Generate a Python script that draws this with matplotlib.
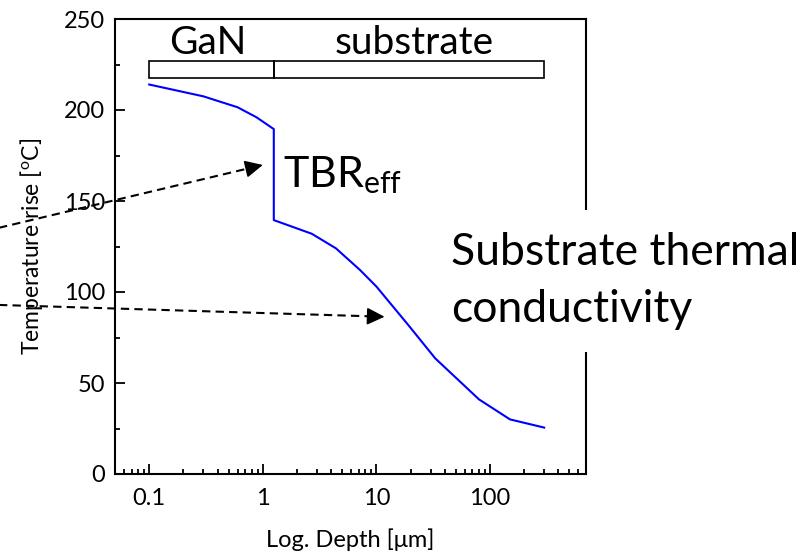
import matplotlib
matplotlib.use('Agg')
import matplotlib.pyplot as plt
from matplotlib.patches import Rectangle
from matplotlib.ticker import LogLocator, FixedLocator, NullFormatter
import numpy as np

plt.rcParams['font.family'] = ['Lato', 'DejaVu Sans']
plt.rcParams['mathtext.fontset'] = 'custom'
plt.rcParams['mathtext.rm'] = 'Lato'
plt.rcParams['mathtext.it'] = 'Lato:italic'

# temperature rise vs depth
depth = [0.1, 0.3, 0.6, 0.88, 1.25, 1.25, 2.7, 4.4, 7.2, 10, 19, 33, 80, 150, 300]
temp = [214, 207.5, 201.5, 196, 189.5, 139.5, 132, 124, 112, 103, 82, 63.5, 41, 30, 25.5]

# layer bars: (name, start, end)
layers = [('GaN', 0.1, 1.25), ('substrate', 1.25, 300)]
layer_label_x = [0.33, 21.6]
bar_y = (217.5, 227)

# dashed arrows: tail -> tip
arrow_tails = [(0.0047, 135.2), (0.0047, 92.9)]
arrow_tips = [(1.0, 169.8), (11.8, 86.4)]

xticks = [0.1, 1, 10, 100]
xticklabels = ['0.1', '1', '10', '100']
yticks = [0, 50, 100, 150, 200, 250]

W, H = 812, 552
fig = plt.figure(figsize=(W / 100, H / 100), dpi=100)
ax = fig.add_axes([115 / W, (H - 474) / H, (586 - 115) / W, (474 - 19) / H])

ax.plot(depth, temp, color='#0000ff', lw=1.5, zorder=4)

ax.set_xscale('log')
ax.set_xlim(0.05, 700)
ax.set_ylim(0, 250)

ax.xaxis.set_major_locator(FixedLocator(xticks))
ax.set_xticklabels(xticklabels)
ax.xaxis.set_minor_locator(LogLocator(base=10, subs=np.arange(2, 10), numticks=20))
ax.xaxis.set_minor_formatter(NullFormatter())
ax.set_yticks(yticks)
ax.yaxis.set_minor_locator(FixedLocator([25, 75, 125, 175, 225]))

ax.tick_params(which='both', direction='in', top=False, right=False, labelsize=17, width=1.3)
ax.tick_params(which='major', length=7)
ax.tick_params(which='minor', length=3.5)
ax.tick_params(axis='x', which='major', pad=10)
ax.tick_params(axis='y', which='major', pad=7)
for s in ax.spines.values():
    s.set_linewidth(1.5)

ax.set_xlabel('Log. Depth [\u03bcm]', fontsize=17, labelpad=14)
ax.set_ylabel(r'Temperature rise [$^{\mathrm{o}}$C]', fontsize=16.5, labelpad=14)

# layer bars on top
for (name, x0, x1), lx in zip(layers, layer_label_x):
    ax.add_patch(Rectangle((x0, bar_y[0]), x1 - x0, bar_y[1] - bar_y[0],
                           fill=False, ec='black', lw=1.2, zorder=3))
    ax.text(lx, 231, name, fontsize=28, ha='center', va='baseline')

# dashed arrows
for (tx, ty), (hx, hy) in zip(arrow_tails, arrow_tips):
    lt, lh = np.log10(tx), np.log10(hx)
    t = 0.96
    bx = 10 ** (lt + t * (lh - lt))
    by = ty + t * (hy - ty)
    ax.plot([tx, bx], [ty, by], color='black', lw=1.5, ls=(0, (4, 2.5)),
            clip_on=False, zorder=5)
    ax.annotate('', xy=(hx, hy), xytext=(bx, by),
                arrowprops=dict(arrowstyle='-|>,head_length=0.45,head_width=0.22',
                                mutation_scale=24, color='black', lw=1.2,
                                shrinkA=0, shrinkB=0),
                annotation_clip=False, zorder=5)

ax.text(1.5, 157.7, r'TBR$_{\mathrm{eff}}$', fontsize=31, va='baseline', ha='left')
ax.text(45.6, 83.5, 'Substrate thermal\nconductivity', fontsize=32,
        va='baseline', ha='left', linespacing=1.48, zorder=3,
        bbox=dict(facecolor='white', edgecolor='none', pad=16))

fig.savefig('out.png', dpi=100)
